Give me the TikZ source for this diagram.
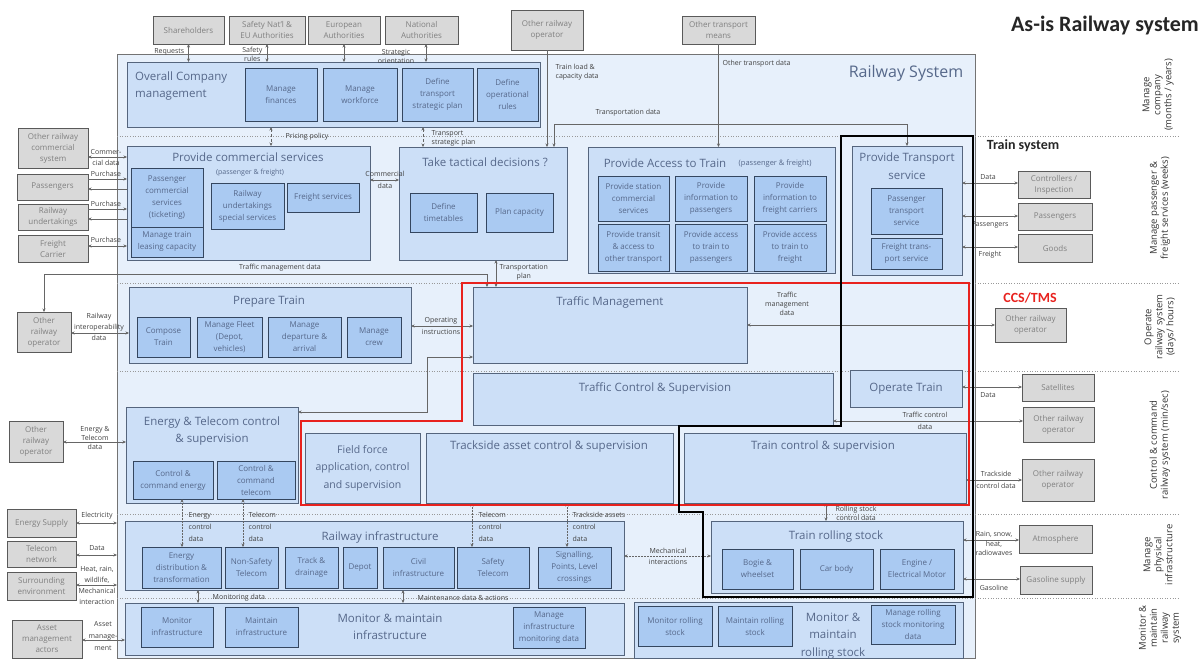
\documentclass[tikz,border=0pt]{standalone}
\usepackage{fontspec}
\setmainfont{Open Sans}
\newfontfamily\calfont{Carlito}
\usetikzlibrary{arrows.meta}
\definecolor{railfill}{HTML}{E7F0FB}
\definecolor{mfill}{HTML}{CCDFF7}
\definecolor{sfill}{HTML}{AACAF2}
\definecolor{mdraw}{HTML}{55657D}
\definecolor{sdraw}{HTML}{34465F}
\definecolor{txt}{HTML}{56688A}
\definecolor{efill}{HTML}{D9D9D9}
\definecolor{edraw}{HTML}{5A5A5A}
\definecolor{etxt}{HTML}{808080}
\definecolor{ccsred}{HTML}{E8221E}
\newcommand\bx[7]{\node[#2,minimum width={#5-#3},minimum height={#6-#4},anchor=north west] (#1) at (#3,#4) {#7};}
\begin{document}
\begin{tikzpicture}[x=1pt,y=-1pt,>={Stealth[length=3.5pt,width=3pt]},
  ext/.style={draw=edraw,fill=efill,line width=1pt,inner sep=0pt,outer sep=0pt,align=center,text=etxt,font=\fontsize{8}{11}\selectfont},
  mbox/.style={draw=mdraw,fill=mfill,line width=0.9pt,inner sep=0pt,outer sep=0pt},
  sbox/.style={draw=sdraw,fill=sfill,line width=1pt,inner sep=0pt,outer sep=0pt,align=center,text=txt,font=\fontsize{8}{12}\selectfont},
  ttl/.style={text=txt,font=\fontsize{11.5}{17.5}\selectfont,align=center,inner sep=0pt},
  lab/.style={text=black!75,font=\fontsize{7}{9}\selectfont,align=center,inner sep=0.5pt},
  con/.style={draw=black!60,line width=0.5pt},
  dcon/.style={con,densely dashed},
  tcon/.style={con,densely dotted},
  lane/.style={draw=black!40,dotted,line width=0.6pt},
  lanetxt/.style={rotate=90,font=\fontsize{9.5}{11}\selectfont,text=black!80,align=center,inner sep=0pt}]
\useasboundingbox (0,0) rectangle (1203,659);
% railway system frame
\bx{rs}{draw=black!55,fill=railfill,line width=0.8pt,inner sep=0pt,outer sep=0pt}{117}{54}{975}{658}{}
\foreach \yy in {136,283,371,514,598} \draw[lane] (117,\yy) -- (1178,\yy);
\node[ttl,font=\fontsize{16}{18}\selectfont] (rstitle) at (906,73) {Railway System};
% titles
\node[font=\calfont\bfseries\fontsize{22}{24}\selectfont,text=black!85,anchor=east,inner sep=0pt] (title) at (1199,26) {As-is Railway system};
\node[font=\calfont\bfseries\fontsize{14}{16}\selectfont,text=black!85,inner sep=0pt] (trainsys) at (1023,146) {Train system};
\node[font=\calfont\bfseries\fontsize{14}{16}\selectfont,text=ccsred,inner sep=0pt] (ccs) at (1030,298) {CCS/TMS};
% lane labels
\node[lanetxt] (l1) at (1158,95) {Manage\\company\\(months / years)};
\node[lanetxt] (l2) at (1160,208) {Manage passenger \&\\freight services (weeks)};
\node[lanetxt] (l3) at (1160,327) {Operate\\railway system\\(days/ hours)};
\node[lanetxt] (l4) at (1160,445) {Control \& command\\railway system (min/sec)};
\node[lanetxt] (l5) at (1158,555) {Manage\\physical\\infrastructure};
\node[lanetxt] (l6) at (1160,628) {Monitor \&\\maintain\\railway\\system};
% external actors
\bx{sh}{ext}{153}{16}{224}{44}{Shareholders}
\bx{saf}{ext}{229}{16}{305}{44}{Safety Nat\textquoteright l \&\\EU Authorities}
\bx{eur}{ext}{308}{16}{380}{44}{European\\Authorities}
\bx{nat}{ext}{385}{16}{458}{44}{National\\Authorities}
\bx{oro}{ext}{511}{10}{583}{50}{Other railway\\operator}
\bx{otm}{ext}{682}{16}{755}{44}{Other transport\\means}
\bx{orc}{ext}{18}{128}{88}{168}{Other railway\\commercial\\system}
\bx{pasL}{ext}{17}{174}{88}{200}{Passengers}
\bx{ru}{ext}{18}{204}{88}{230}{Railway\\undertakings}
\bx{fc}{ext}{18}{235}{88}{262}{Freight\\Carrier}
\bx{oroA}{ext}{17}{312}{71}{352}{Other\\railway\\operator}
\bx{oroB}{ext}{9}{421}{63}{462}{Other\\railway\\operator}
\bx{es}{ext}{7}{509}{76}{537}{Energy Supply}
\bx{tn}{ext}{7}{541}{76}{567}{Telecom\\network}
\bx{se}{ext}{7}{572}{76}{600}{Surrounding\\environment}
\bx{ama}{ext}{12}{620}{82}{658}{Asset\\management\\actors}
\bx{cont}{ext}{1018}{171}{1090}{198}{Controllers /\\Inspection}
\bx{pasR}{ext}{1018}{203}{1092}{230}{Passengers}
\bx{goods}{ext}{1018}{234}{1092}{262}{Goods}
\bx{oroC}{ext}{995}{308}{1066}{342}{Other railway\\operator}
\bx{sat}{ext}{1022}{374}{1094}{401}{Satellites}
\bx{oroD}{ext}{1023}{407}{1094}{442}{Other railway\\operator}
\bx{oroE}{ext}{1022}{459}{1094}{501}{Other railway\\operator}
\bx{atm}{ext}{1019}{525}{1092}{553}{Atmosphere}
\bx{gas}{ext}{1020}{566}{1092}{594}{Gasoline supply}
% overall company management
\bx{ocm}{mbox}{127}{62}{540}{127}{}
\node[ttl,anchor=west,align=left] (ocmT) at (135,86) {Overall Company\\management};
\bx{mf}{sbox}{245}{68}{317}{121}{Manage\\finances}
\bx{mw}{sbox}{323}{68}{397}{121}{Manage\\workforce}
\bx{dtsp}{sbox}{402}{68}{473}{121}{Define\\transport\\strategic plan}
\bx{dor}{sbox}{477}{68}{538}{121}{Define\\operational\\rules}
% provide commercial services
\bx{pcs}{mbox}{127}{146}{370}{260}{}
\node[ttl] (pcsT) at (248,157) {Provide commercial services};
\node[lab,text=txt] (pcsT2) at (250,173) {(passenger \& freight)};
\bx{pcst}{sbox}{131}{168}{203}{227}{Passenger\\commercial\\services\\(ticketing)}
\bx{mtlc}{sbox}{131}{227}{203}{257}{Manage train\\leasing capacity}
\bx{rus}{sbox}{211}{183}{284}{229}{Railway\\undertakings\\special services}
\bx{fs}{sbox}{287}{183}{359}{212}{Freight services}
% take tactical decisions
\bx{ttd}{mbox}{399}{147}{567}{260}{}
\node[ttl] (ttdT) at (485,162) {Take tactical decisions ?};
\bx{dt}{sbox}{410}{193}{477}{232}{Define\\timetables}
\bx{pc}{sbox}{486}{193}{553}{232}{Plan capacity}
% provide access to train
\bx{pat}{mbox}{588}{147}{835}{273}{}
\node[ttl] (patT) at (665,163) {Provide Access to Train};
\node[lab,text=txt,font=\fontsize{7.5}{9}\selectfont,anchor=west] (patT2) at (738,164) {(passenger \& freight)};
\bx{pa1}{sbox}{598}{176}{669}{221}{Provide station\\commercial\\services}
\bx{pa2}{sbox}{675}{176}{747}{221}{Provide\\information to\\passengers}
\bx{pa3}{sbox}{754}{176}{826}{221}{Provide\\information to\\freight carriers}
\bx{pa4}{sbox}{598}{224}{669}{271}{Provide transit\\\& access to\\other transport}
\bx{pa5}{sbox}{675}{224}{747}{271}{Provide access\\to train to\\passengers}
\bx{pa6}{sbox}{754}{224}{826}{271}{Provide access\\to train to\\freight}
% provide transport service
\bx{pts}{mbox}{852}{146}{962}{275}{}
\node[ttl] (ptsT) at (907,166) {Provide Transport\\service};
\bx{pts1}{sbox}{871}{188}{942}{234}{Passenger\\transport\\service}
\bx{pts2}{sbox}{871}{238}{942}{269}{Freight trans-\\port service}
% prepare train
\bx{pt}{mbox}{129}{287}{411}{363}{}
\node[ttl] (ptT) at (269,302) {Prepare Train};
\bx{ct}{sbox}{137}{317}{190}{357}{Compose\\Train}
\bx{mfd}{sbox}{197}{317}{262}{357}{Manage Fleet\\(Depot,\\vehicles)}
\bx{mda}{sbox}{268}{317}{341}{357}{Manage\\departure \&\\arrival}
\bx{mc}{sbox}{347}{317}{401}{357}{Manage\\crew}
% traffic
\bx{tm}{mbox}{473}{287}{747}{363}{}
\node[ttl] (tmT) at (610,302) {Traffic Management};
\bx{tcs}{mbox}{473}{373}{833}{425}{}
\node[ttl] (tcsT) at (655,388) {Traffic Control \& Supervision};
\bx{ot}{mbox,ttl}{850}{370}{962}{407}{Operate Train}
\bx{tcsup}{mbox}{684}{433}{966}{503}{}
\node[ttl] (tcsupT) at (823,447) {Train control \& supervision};
\bx{ffa}{mbox,ttl,font=\fontsize{10.5}{17.5}\selectfont}{305}{433}{420}{503}{Field force\\application, control\\and supervision}
\bx{tac}{mbox}{426}{433}{673}{503}{}
\node[ttl] (tacT) at (549,447) {Trackside asset control \& supervision};
% energy & telecom
\bx{etc}{mbox}{126}{407}{298}{503}{}
\node[ttl] (etcT) at (212,431) {Energy \& Telecom control\\\& supervision};
\bx{cce}{sbox}{133}{461}{213}{499}{Control \&\\command energy}
\bx{cct}{sbox}{217}{461}{295}{499}{Control \&\\command\\telecom}
% railway infrastructure
\bx{ri}{mbox}{125}{521}{624}{590}{}
\node[ttl] (riT) at (380,537) {Railway infrastructure};
\bx{edt}{sbox}{142}{547}{221}{588}{Energy\\distribution \&\\transformation}
\bx{nst}{sbox}{225}{547}{278}{588}{Non-Safety\\Telecom}
\bx{td}{sbox}{285}{547}{338}{588}{Track \&\\drainage}
\bx{dep}{sbox}{343}{547}{377}{588}{Depot}
\bx{ci}{sbox}{383}{547}{454}{588}{Civil\\infrastructure}
\bx{st}{sbox}{457}{547}{529}{588}{Safety\\Telecom}
\bx{sig}{sbox}{538}{547}{611}{588}{Signalling,\\Points, Level\\crossings}
% monitor & maintain infrastructure
\bx{mmi}{mbox}{125}{603}{624}{655}{}
\node[ttl] (mmiT) at (390,627) {Monitor \& maintain\\infrastructure};
\bx{mi}{sbox}{141}{607}{213}{647}{Monitor\\infrastructure}
\bx{mai}{sbox}{225}{607}{298}{647}{Maintain\\infrastructure}
\bx{mimd}{sbox}{513}{607}{585}{648}{Manage\\infrastructure\\monitoring data}
% train rolling stock
\bx{trs}{mbox}{711}{521}{963}{593}{}
\node[ttl] (trsT) at (836,537) {Train rolling stock};
\bx{bw}{sbox}{722}{549}{793}{589}{Bogie \&\\wheelset}
\bx{cb}{sbox}{800}{549}{873}{589}{Car body}
\bx{em}{sbox}{880}{549}{954}{589}{Engine /\\Electrical Motor}
% monitor & maintain rolling stock
\bx{mmr}{mbox}{634}{602}{963}{658}{}
\node[ttl] (mmrT) at (833,636) {Monitor \&\\maintain\\rolling stock};
\bx{mrs}{sbox}{638}{606}{712}{646}{Monitor rolling\\stock}
\bx{mars}{sbox}{718}{606}{792}{646}{Maintain rolling\\stock}
\bx{mrsmd}{sbox}{871}{605}{955}{644}{Manage rolling\\stock monitoring\\data}
% ---------- connectors ----------
\draw[con,<->] (sh.south) -- (sh.south |- ocm.north);
\node[lab,anchor=east] (lreq) at (185,52) {Requests};
\draw[con,<->] (saf.south) -- (saf.south |- ocm.north);
\node[lab,anchor=east] (lsaf) at (263,54) {Safety\\rules};
\draw[con,<->] (eur.south) -- (eur.south |- ocm.north);
\coordinate (natx) at (426,0);
\draw[con,<->] (natx |- nat.south) -- (natx |- ocm.north);
\node[lab] (lstrat) at (396,56) {Strategic\\orientation};
\draw[con,->] (oro.south) -- (oro.south |- ttd.north);
\node[lab,anchor=north west,align=left] (ltl) at (555,63) {Train load \&\\capacity data};
\coordinate (tdx) at (554,0);
\draw[con,<->] (tdx |- ttd.north) -- (tdx |- 0,124) -| (pts.north);
\node[lab] (ltd) at (628,113) {Transportation data};
\draw[con,->] (otm.south) -- (otm.south |- pat.north);
\node[lab,anchor=west] (lotd) at (722,64) {Other transport data};
\coordinate (ppx) at (271,0);
\draw[dcon,<->] (ppx |- ocm.south) -- (ppx |- pcs.north);
\node[lab,anchor=west] (lpp) at (285,137) {Pricing policy};
\coordinate (tspx) at (423,0);
\draw[dcon,<->] (tspx |- ocm.south) -- (tspx |- ttd.north);
\node[lab,anchor=west,align=left] (ltsp) at (431,138) {Transport\\strategic plan};
% left commercial
\draw[con,<->] (orc.east |- 0,157) -- (pcs.west |- 0,157);
\node[lab] (lcd) at (106,157) {Commer-\\[2pt]cial data};
\draw[con,->] (pasL.east |- 0,179) -- (pcs.west |- 0,179);
\draw[con,->] (pcs.west |- 0,189) -- (pasL.east |- 0,189);
\node[lab] (lp1) at (106,174) {Purchase};
\draw[con,->] (ru.east |- 0,209) -- (pcs.west |- 0,209);
\draw[con,->] (pcs.west |- 0,219) -- (ru.east |- 0,219);
\node[lab] (lp2) at (106,204) {Purchase};
\draw[con,<->] (fc.east |- 0,246) -- (pcs.west |- 0,246);
\node[lab] (lp3) at (106,240) {Purchase};
\draw[con,<->] (pcs.east |- 0,180) -- (ttd.west |- 0,180);
\node[lab] (lcd2) at (385,180) {Commercial\\[3pt]data};
% traffic management data (left) and transportation plan
\coordinate (tmdx) at (487,0);
\draw[con,<->] (oroA.north) |- (tmdx |- 0,274) -- (tmdx |- tm.north);
\node[lab] (ltmd) at (280,268) {Traffic management data};
\coordinate (tpx) at (496,0);
\draw[con,<->] (tpx |- ttd.south) -- (tpx |- tm.north);
\node[lab,anchor=north west] (ltp) at (499,264) {Transportation\\plan};
\draw[con,<->] (oroA.east |- 0,333) -- (pt.west |- 0,333);
\node[lab] (lri) at (99,327) {Railway\\[2pt]interoperability\\[2pt]data};
\draw[con,<->] (tm.west |- 0,326) -- (pt.east |- 0,326);
\node[lab] (loi) at (441,326) {Operating\\[3pt]instructions};
\coordinate (tex) at (427,0);
\draw[con,<->] (tm.west |- 0,357) -| (tex |- 0,412) -- (etc.east |- 0,412);
\draw[con,<->] (tm.east |- 0,325) -- (oroC.west |- 0,325);
\node[lab] (ltmd2) at (787,304) {Traffic\\management\\data};
% transport service externals
\draw[con,<->] (pts.east |- 0,183) -- (cont.west |- 0,183);
\node[lab] (ld1) at (988,177) {Data};
\draw[con,<->] (pts.east |- 0,216) -- (pasR.west |- 0,216);
\node[lab] (ld2) at (990,225) {Passengers};
\draw[con,<->] (pts.east |- 0,247) -- (goods.west |- 0,247);
\node[lab] (ld3) at (990,255) {Freight};
% control lane externals
\draw[con,<->] (ot.east |- 0,387) -- (sat.west |- 0,387);
\node[lab] (ld4) at (988,395) {Data};
\draw[con,<->] (tcs.east |- 0,421) -- (oroD.west |- 0,421);
\node[lab] (ltcd) at (925,421) {Traffic control\\[3pt]data};
\draw[con,<->] (tcsup.east |- 0,480) -- (oroE.west |- 0,480);
\node[lab] (ltsc) at (996,480) {Trackside\\[3pt]control data};
% energy & telecom data
\draw[con,<->] (oroB.east |- 0,442) -- (etc.west |- 0,442);
\node[lab] (let) at (95,438) {Energy \&\\Telecom\\data};
% physical lane externals
\draw[con,<->] (trs.east |- 0,540) -- (atm.west |- 0,540);
\node[lab] (lrain) at (994,543) {Rain, snow,\\[1pt]heat,\\radiowaves};
\draw[con,<->] (trs.east |- 0,579) -- (gas.west |- 0,579);
\node[lab] (lgas) at (994,588) {Gasoline};
\draw[con,<->] (es.east |- 0,523) -- (rs.west |- 0,523);
\node[lab] (lel) at (97,516) {Electricity};
\draw[con,<->] (tn.east |- 0,555) -- (rs.west |- 0,555);
\node[lab] (ldat) at (97,548) {Data};
\draw[con,<->] (se.east |- 0,585) -- (rs.west |- 0,585);
\node[lab,font=\fontsize{7}{11}\selectfont] (lheat) at (97,585) {Heat, rain,\\wildlife,\\Mechanical\\interaction};
\draw[con,<->] (ama.east |- 0,640) -- (mmi.west |- 0,640);
\node[lab,font=\fontsize{7}{12}\selectfont] (lam) at (103,636) {Asset\\manage-\\ment};
% control data to infrastructure
\coordinate (ecx) at (182,0);
\draw[tcon,<->] (ecx |- cce.south) -- (ecx |- edt.north);
\node[lab,anchor=west,align=left,font=\fontsize{7}{12}\selectfont] (lec) at (188,527) {Energy\\control\\data};
\coordinate (tc1x) at (243,0);
\draw[tcon,<->] (tc1x |- cct.south) -- (tc1x |- nst.north);
\node[lab,anchor=west,align=left,font=\fontsize{7}{12}\selectfont] (ltc1) at (248,527) {Telecom\\control\\data};
\coordinate (tc2x) at (472,0);
\draw[tcon,<->] (tc2x |- tac.south) -- (tc2x |- st.north);
\node[lab,anchor=west,align=left,font=\fontsize{7}{12}\selectfont] (ltc2) at (478,527) {Telecom\\control\\data};
\coordinate (tacx) at (567,0);
\draw[tcon,<->] (tacx |- tac.south) -- (tacx |- sig.north);
\node[lab,anchor=west,align=left,font=\fontsize{7}{12}\selectfont] (ltac) at (572,527) {Trackside assets\\control\\data};
\draw[tcon,<->] (trs.west |- 0,556) -- (ri.east |- 0,556);
\node[lab] (lmi) at (668,556) {Mechanical\\[2pt]interactions};
\coordinate (rscx) at (826,0);
\draw[con,<->] (rscx |- tcsup.south) -- (rscx |- trs.north);
\node[lab] (lrsc) at (856,513) {Rolling stock\\control data};
\coordinate (mdx) at (198,0);
\draw[con,<->] (mdx |- ri.south) -- (mdx |- mmi.north);
\node[lab,anchor=west] (lmd) at (212,598) {Monitoring data};
\coordinate (madx) at (403,0);
\draw[con,<->] (madx |- ri.south) -- (madx |- mmi.north);
\node[lab,anchor=west] (lmad) at (417,598) {Maintenance data \& actions};
% ---------- system boundaries ----------
\draw[ccsred,line width=2.6pt] (462,283) -- (969,283) -- (969,505) -- (301,505) -- (301,421) -- (462,421) -- cycle;
\draw[black,line width=2.8pt] (841,136) -- (973,136) -- (973,597) -- (703,597) -- (703,512) -- (679,512) -- (679,426) -- (841,426) -- cycle;
\end{tikzpicture}
\end{document}
